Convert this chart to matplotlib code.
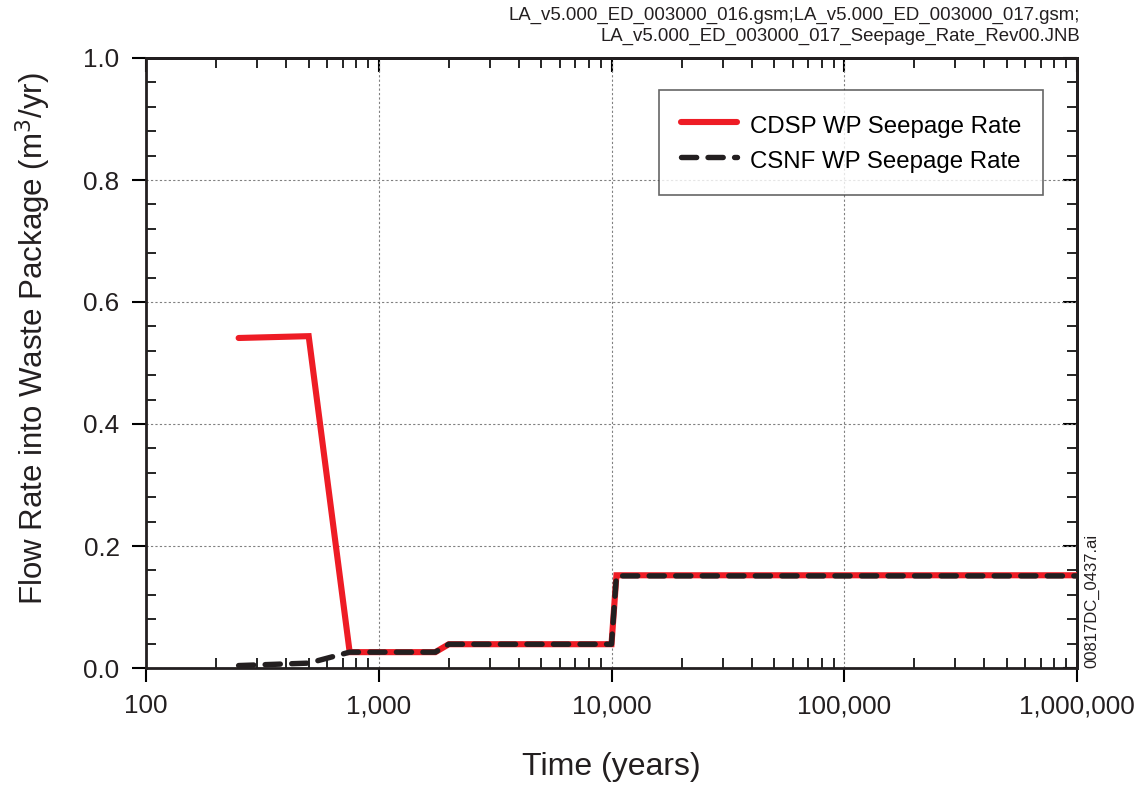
import matplotlib.pyplot as plt
from matplotlib.ticker import LogLocator, FixedLocator, MultipleLocator, FuncFormatter, NullFormatter

plt.rcParams['font.family'] = ['Liberation Sans', 'DejaVu Sans']

# data
cdsp_t = [250, 500, 750, 1750, 2000, 10000, 10500, 1000000]
cdsp_q = [0.541, 0.544, 0.026, 0.026, 0.039, 0.039, 0.152, 0.152]
csnf_t = [250, 500, 750, 1750, 2000, 10000, 10500, 1000000]
csnf_q = [0.004, 0.008, 0.026, 0.026, 0.039, 0.039, 0.151, 0.151]

x_ticks = [100, 1000, 10000, 100000, 1000000]
x_labels = ['100', '1,000', '10,000', '100,000', '1,000,000']

fig = plt.figure(figsize=(11.45, 7.89), dpi=100)
ax = fig.add_axes([146 / 1145, 1 - 668 / 789, 931 / 1145, 610 / 789])

ax.plot(cdsp_t, cdsp_q, color='#ee1c25', lw=4.4, label='CDSP WP Seepage Rate',
        solid_joinstyle='miter', solid_capstyle='round', zorder=3)
ax.plot(csnf_t, csnf_q, color='#231f20', lw=3.9, dashes=(2.8, 2.1),
        dash_capstyle='round', label='CSNF WP Seepage Rate', zorder=4)

ax.set_xscale('log')
ax.set_xlim(100, 1e6)
ax.set_ylim(0, 1.0)

ax.xaxis.set_major_locator(FixedLocator(x_ticks))
ax.xaxis.set_major_formatter(FuncFormatter(lambda v, p: x_labels[x_ticks.index(v)] if v in x_ticks else ''))
ax.xaxis.set_minor_locator(LogLocator(base=10, subs=range(2, 10)))
ax.xaxis.set_minor_formatter(NullFormatter())
ax.yaxis.set_major_locator(MultipleLocator(0.2))
ax.yaxis.set_major_formatter(FuncFormatter(lambda v, p: f'{v:.1f}'))
ax.yaxis.set_minor_locator(MultipleLocator(0.04))

ax.tick_params(which='major', direction='out', length=10, width=1.5, labelsize=18.7, pad=9,
               labelcolor='#231f20')
ax.tick_params(which='minor', direction='in', length=7, width=1.2)

ax.grid(True, which='major', color='#808080', linestyle=(0, (2, 2)), linewidth=0.8)

for s in ax.spines.values():
    s.set_linewidth(2)
    s.set_color('#231f20')

# inward ticks on top and right
top = ax.secondary_xaxis('top')
top.xaxis.set_major_locator(FixedLocator(x_ticks))
top.xaxis.set_minor_locator(LogLocator(base=10, subs=range(2, 10)))
top.tick_params(which='major', direction='in', length=10, width=1.5, labeltop=False)
top.tick_params(which='minor', direction='in', length=7, width=1.2)
top.xaxis.set_major_formatter(NullFormatter())
top.xaxis.set_minor_formatter(NullFormatter())
top.spines['top'].set_linewidth(2)

right = ax.secondary_yaxis('right')
right.yaxis.set_major_locator(MultipleLocator(0.2))
right.yaxis.set_minor_locator(MultipleLocator(0.04))
right.tick_params(which='major', direction='in', length=10, width=1.5, labelright=False)
right.tick_params(which='minor', direction='in', length=7, width=1.2)
right.yaxis.set_major_formatter(NullFormatter())
right.spines['right'].set_linewidth(2)

ax.set_xlabel('Time (years)', fontsize=23, labelpad=24, color='#231f20')
ax.set_ylabel('Flow Rate into Waste Package (m$^3$/yr)', fontsize=22.5, labelpad=22,
              y=0.54, color='#231f20')

leg = ax.legend(loc='upper right', bbox_to_anchor=(1043 / 1145, 1 - 90 / 789),
                bbox_transform=fig.transFigure, borderaxespad=0, fontsize=17.3,
                frameon=True, fancybox=False, edgecolor='#404040', borderpad=0.92,
                handlelength=2.33, handleheight=1.25, handletextpad=0.53, labelspacing=0.38)
leg.get_frame().set_linewidth(1.2)

fig.text(1080 / 1145, 1 - 7 / 789,
         'LA_v5.000_ED_003000_016.gsm;LA_v5.000_ED_003000_017.gsm;\n'
         'LA_v5.000_ED_003000_017_Seepage_Rate_Rev00.JNB',
         ha='right', va='top', fontsize=13.4, linespacing=1.3, color='#231f20')
fig.text(1092 / 1145, 1 - 668 / 789, '00817DC_0437.ai', rotation=90,
         ha='center', va='bottom', fontsize=12, color='#231f20')

fig.savefig('out.png', dpi=100)
